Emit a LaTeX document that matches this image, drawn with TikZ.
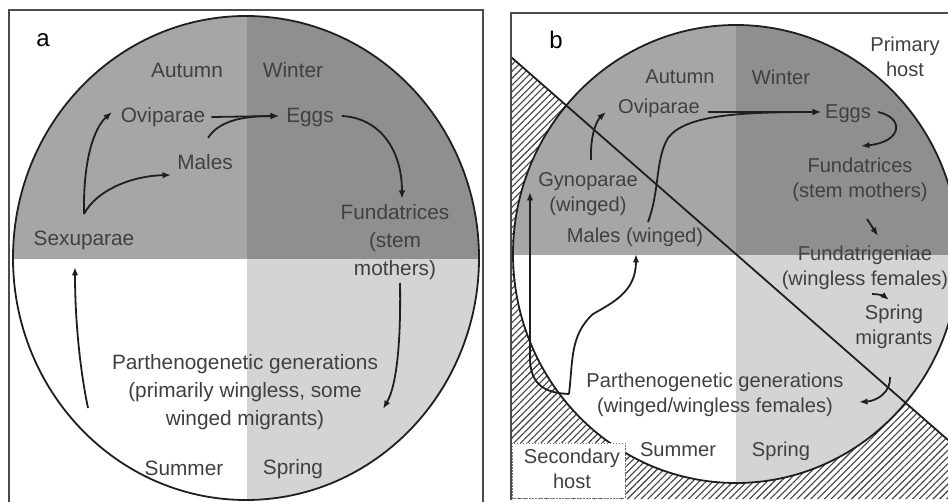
\documentclass[tikz,border=0pt]{standalone}
\usepackage{fontspec}
\setmainfont{Liberation Sans}
\usetikzlibrary{patterns.meta,arrows.meta}
\definecolor{aut}{gray}{0.65}
\definecolor{win}{gray}{0.56}
\definecolor{spr}{gray}{0.83}
\definecolor{txt}{gray}{0.25}
\definecolor{lin}{gray}{0.12}
\begin{document}
\begin{tikzpicture}[x=1pt,y=-1pt,
  laba/.style={text=txt, inner sep=0pt, align=center, font=\fontsize{20.8}{28}\selectfont},
  labb/.style={text=txt, inner sep=0pt, align=center, font=\fontsize{20.1}{24.5}\selectfont},
  panellab/.style={text=black, inner sep=0pt, font=\fontsize{24}{28}\selectfont},
  arr/.style={line width=1.8pt, draw=lin, -{Latex[length=8.5pt,width=6.5pt]}},
  rim/.style={line width=1.8pt, draw=lin},
  frame/.style={line width=1.8pt, draw=black!70},
  hatch/.style={pattern={Lines[angle=45,distance=4.8pt,line width=1.1pt]}, pattern color=black!75}
]
\useasboundingbox (0,0) rectangle (948,502);
\fill[white] (0,0) rectangle (948,502);

% ---------------- panel a ----------------
\begin{scope}
  \clip (246,258) ellipse [x radius=233pt, y radius=242pt];
  \fill[aut] (0,0) rectangle (247,259);
  \fill[win] (247,0) rectangle (490,259);
  \fill[spr] (247,259) rectangle (490,510);
\end{scope}
\draw[rim] (246,258) ellipse [x radius=233pt, y radius=242pt];
\draw[frame] (9,503) -- (9,10) -- (483,10) -- (483,503);

\node[panellab] (la) at (43,40) {a};
\node[laba] (a-aut) at (187,70) {Autumn};
\node[laba] (a-win) at (293,70) {Winter};
\node[laba] (a-ovi) at (163,117) {Oviparae};
\node[laba] (a-egg) at (310,118) {Eggs};
\node[laba] (a-mal) at (205,162) {Males};
\node[laba] (a-sex) at (84,240) {Sexuparae};
\node[laba] (a-fun) at (395,242) {Fundatrices\\(stem\\mothers)};
\node[laba] (a-par) at (245,392) {Parthenogenetic generations\\(primarily wingless, some\\winged migrants)};
\node[laba] (a-sum) at (184,468) {Summer};
\node[laba] (a-spr) at (293,469) {Spring};

\coordinate (a-sexup) at (84,214);
\draw[arr] (a-sexup) .. controls (83,160) and (94,128) .. (112,112);
\draw[arr] (a-sexup) .. controls (96,191) and (130,176) .. (171,175);
\draw[arr] (a-ovi.east) ++(6,0) -- (279,116);
\draw[arr] (208,138) .. controls (218,122) and (240,116) .. (279,116);
\draw[arr] (a-egg.east) ++(8,-2) .. controls (380,118) and (402,150) .. (402,199);
\draw[arr] (400,283) .. controls (401,340) and (397,385) .. (383,409);
\draw[arr] (88,408) .. controls (80,370) and (75,320) .. (75,267);

% ---------------- panel b ----------------
\begin{scope}
  \clip (511,13) rectangle (948,499);
  \fill[hatch] (511,57) -- (948,440) -- (948,499) -- (511,499) -- cycle;
  \begin{scope}
    \clip (736,254) ellipse [x radius=223pt, y radius=229pt];
    \fill[aut] (500,0) rectangle (736,255);
    \fill[win] (736,0) rectangle (970,255);
    \fill[white] (500,255) rectangle (736,490);
    \fill[spr] (736,255) rectangle (970,490);
  \end{scope}
  \draw[rim] (736,254) ellipse [x radius=223pt, y radius=229pt];
  \draw[line width=1.8pt, draw=lin] (511,57) -- (948,440);
\end{scope}
\draw[fill=white, draw=black!55, line width=0.9pt, dash pattern=on 1.5pt off 1.5pt] (512,443) rectangle (625,498);
\draw[frame] (511,500) -- (511,13) -- (949,13);

\node[panellab] (lb) at (556,40) {b};
\node[labb] (b-pri) at (905,57) {Primary\\host};
\node[labb] (b-aut) at (680,77) {Autumn};
\node[labb] (b-win) at (781,77) {Winter};
\node[labb] (b-ovi) at (659,108) {Oviparae};
\node[labb] (b-egg) at (848,114) {Eggs};
\node[labb] (b-gyn) at (588,194) {Gynoparae\\(winged)};
\node[labb] (b-mal) at (635,237) {Males (winged)};
\node[labb] (b-fun) at (860,180) {Fundatrices\\(stem mothers)};
\node[labb] (b-fgn) at (865,268) {Fundatrigeniae\\(wingless females)};
\node[labb] (b-smg) at (894,327) {Spring\\migrants};
\node[labb] (b-par) at (715,395) {Parthenogenetic generations\\(winged/wingless females)};
\node[labb] (b-sum) at (678,450) {Summer};
\node[labb] (b-spr) at (781,451) {Spring};
\node[labb] (b-sec) at (572,469) {Secondary\\host};

\draw[arr] (591,160) .. controls (590,135) and (597,120) .. (606,112);
\draw[arr] (708,112) -- (821,112);
\draw[arr] (648,222) .. controls (660,190) and (655,160) .. (668,138) .. controls (685,115) and (740,112) .. (821,112);
\draw[arr] (878,112) .. controls (905,118) and (902,142) .. (861,146);
\draw[arr] (867,219) -- (878,236);
\draw[arr] (872,294) .. controls (879,294) and (884,296) .. (889,300);
\draw[arr] (890,377) .. controls (891,392) and (877,401) .. (859,402);
\coordinate (b-pg) at (569,394);
\draw[arr] (b-pg) .. controls (545,393) and (531,385) .. (530,360) -- (530,192);
\draw[arr] (b-pg) .. controls (573,360) and (570,335) .. (593,314) .. controls (612,303) and (636,292) .. (636,254);
\end{tikzpicture}
\end{document}
